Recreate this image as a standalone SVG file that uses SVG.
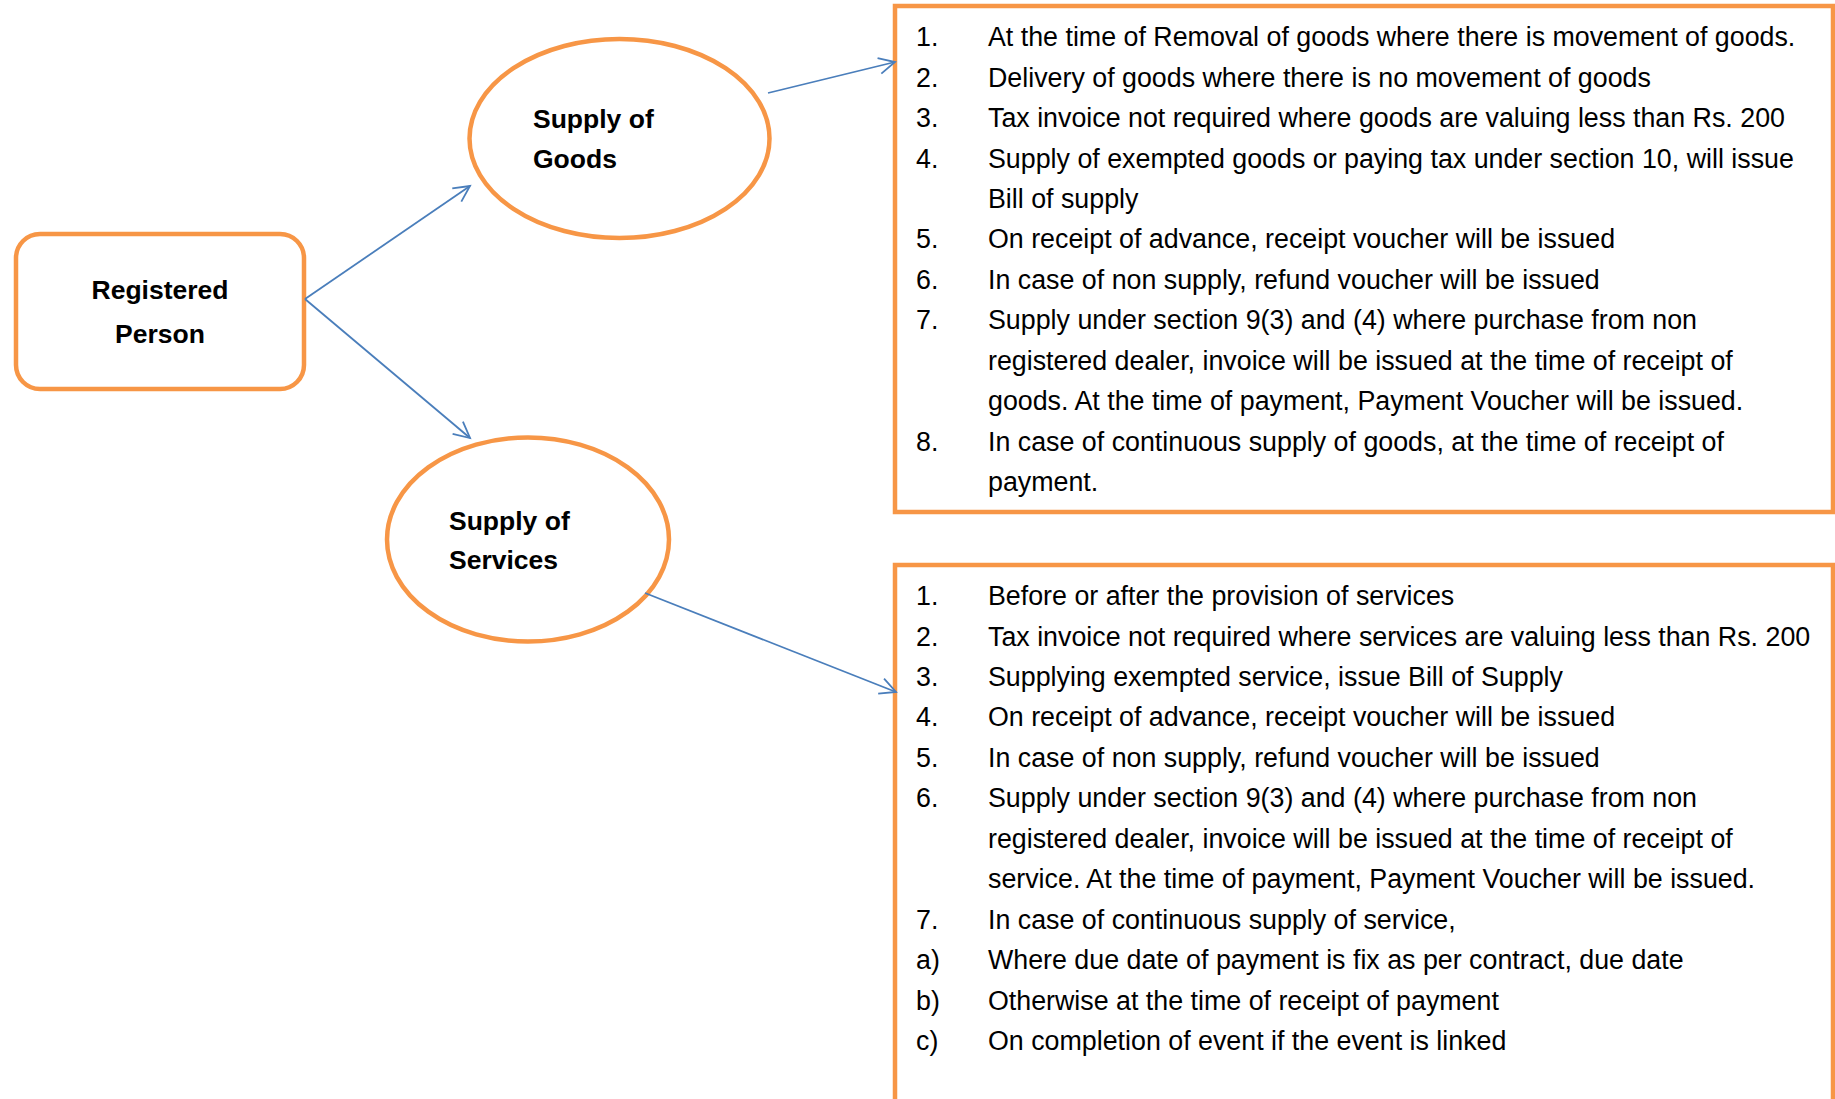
<svg xmlns="http://www.w3.org/2000/svg" width="1835" height="1099" viewBox="0 0 1835 1099">
<style>
.shape{fill:#fff;stroke:#F79646;stroke-width:4.5}
.lbl{font-family:"Liberation Sans",Arial,sans-serif;font-weight:bold;font-size:26.5px;fill:#000}
.t{font-family:"Liberation Sans",Arial,sans-serif;font-size:26.8px;fill:#000}
.conn{stroke:#4A7EBB;stroke-width:1.8;fill:none}
</style>
<defs>
<marker id="arr" markerUnits="userSpaceOnUse" markerWidth="24" markerHeight="24" viewBox="0 0 24 24" refX="20" refY="12" orient="auto">
<path d="M4,4 L20,12 L4,20" fill="none" stroke="#4A7EBB" stroke-width="1.8"/>
</marker>
</defs>
<rect width="1835" height="1099" fill="#fff"/>
<g id="registered-person">
<rect class="shape" x="16" y="234" width="288" height="155" rx="24"/>
<text class="lbl" x="160" y="299" text-anchor="middle">Registered</text>
<text class="lbl" x="160" y="343" text-anchor="middle">Person</text>
</g>
<g id="supply-goods">
<ellipse class="shape" cx="619.5" cy="138.5" rx="150" ry="99.5"/>
<text class="lbl" x="533" y="128">Supply of</text>
<text class="lbl" x="533" y="168">Goods</text>
</g>
<g id="supply-services">
<ellipse class="shape" cx="528" cy="539.5" rx="141" ry="102"/>
<text class="lbl" x="449" y="530">Supply of</text>
<text class="lbl" x="449" y="569">Services</text>
</g>
<g id="goods-box">
<rect class="shape" x="895" y="6" width="938" height="506"/>
<text class="t" x="916" y="46">1.</text><text class="t" x="988" y="46">At the time of Removal of goods where there is movement of goods.</text>
<text class="t" x="916" y="86.5">2.</text><text class="t" x="988" y="86.5">Delivery of goods where there is no movement of goods</text>
<text class="t" x="916" y="127">3.</text><text class="t" x="988" y="127">Tax invoice not required where goods are valuing less than Rs. 200</text>
<text class="t" x="916" y="167.5">4.</text><text class="t" x="988" y="167.5">Supply of exempted goods or paying tax under section 10, will issue</text>
<text class="t" x="988" y="208">Bill of supply</text>
<text class="t" x="916" y="248">5.</text><text class="t" x="988" y="248">On receipt of advance, receipt voucher will be issued</text>
<text class="t" x="916" y="289">6.</text><text class="t" x="988" y="289">In case of non supply, refund voucher will be issued</text>
<text class="t" x="916" y="329">7.</text><text class="t" x="988" y="329">Supply under section 9(3) and (4) where purchase from non</text>
<text class="t" x="988" y="370">registered dealer, invoice will be issued at the time of receipt of</text>
<text class="t" x="988" y="410">goods. At the time of payment, Payment Voucher will be issued.</text>
<text class="t" x="916" y="451">8.</text><text class="t" x="988" y="451">In case of continuous supply of goods, at the time of receipt of</text>
<text class="t" x="988" y="491">payment.</text>
</g>
<g id="services-box">
<rect class="shape" x="895" y="565" width="938" height="560"/>
<text class="t" x="916" y="605">1.</text><text class="t" x="988" y="605">Before or after the provision of services</text>
<text class="t" x="916" y="645.5">2.</text><text class="t" x="988" y="645.5">Tax invoice not required where services are valuing less than Rs. 200</text>
<text class="t" x="916" y="686">3.</text><text class="t" x="988" y="686">Supplying exempted service, issue Bill of Supply</text>
<text class="t" x="916" y="726">4.</text><text class="t" x="988" y="726">On receipt of advance, receipt voucher will be issued</text>
<text class="t" x="916" y="767">5.</text><text class="t" x="988" y="767">In case of non supply, refund voucher will be issued</text>
<text class="t" x="916" y="807">6.</text><text class="t" x="988" y="807">Supply under section 9(3) and (4) where purchase from non</text>
<text class="t" x="988" y="848">registered dealer, invoice will be issued at the time of receipt of</text>
<text class="t" x="988" y="888">service. At the time of payment, Payment Voucher will be issued.</text>
<text class="t" x="916" y="929">7.</text><text class="t" x="988" y="929">In case of continuous supply of service,</text>
<text class="t" x="916" y="969">a)</text><text class="t" x="988" y="969">Where due date of payment is fix as per contract, due date</text>
<text class="t" x="916" y="1010">b)</text><text class="t" x="988" y="1010">Otherwise at the time of receipt of payment</text>
<text class="t" x="916" y="1050">c)</text><text class="t" x="988" y="1050">On completion of event if the event is linked</text>
</g>
<g id="connectors">
<line class="conn" x1="305" y1="299" x2="470" y2="186" marker-end="url(#arr)"/>
<line class="conn" x1="305" y1="299" x2="470" y2="438" marker-end="url(#arr)"/>
<line class="conn" x1="768" y1="93" x2="895" y2="62" marker-end="url(#arr)"/>
<line class="conn" x1="645" y1="593" x2="896" y2="692" marker-end="url(#arr)"/>
</g>
</svg>
